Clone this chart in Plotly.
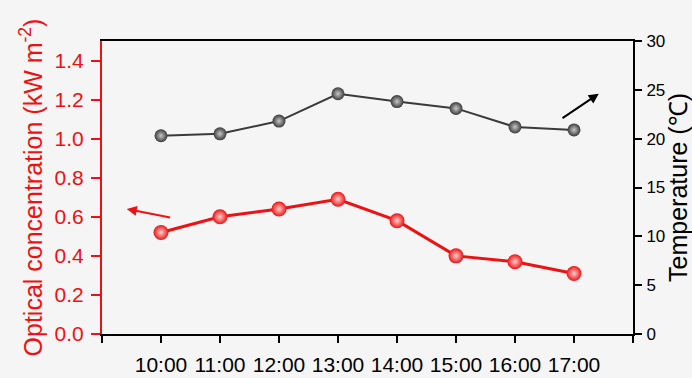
import plotly.graph_objects as go

times = ["10:00", "11:00", "12:00", "13:00", "14:00", "15:00", "16:00", "17:00"]
optical = [0.52, 0.60, 0.64, 0.69, 0.58, 0.40, 0.37, 0.31]
temperature = [20.3, 20.5, 21.8, 24.6, 23.8, 23.1, 21.2, 20.9]
left_ticks = [0.0, 0.2, 0.4, 0.6, 0.8, 1.0, 1.2, 1.4]
right_ticks = [0, 5, 10, 15, 20, 25, 30]

xpos = list(range(len(times)))
FONT = "Arial, Liberation Sans, sans-serif"
RED = "#ee1111"
BG = "#f5f5f5"

fig = go.Figure()
fig.add_trace(go.Scatter(
    x=xpos, y=optical, mode="lines+markers",
    line=dict(color=RED, width=3),
    marker=dict(size=15, color=RED, gradient=dict(type="radial", color="#ffd0d0")),
    yaxis="y", showlegend=False))
fig.add_trace(go.Scatter(
    x=xpos, y=temperature, mode="lines+markers",
    line=dict(color="#3a3a3a", width=2),
    marker=dict(size=13, color="#3a3a3a", gradient=dict(type="radial", color="#c8c8c8")),
    yaxis="y2", showlegend=False))

fig.update_layout(
    width=692, height=378,
    margin=dict(l=102, r=59, t=41, b=44),
    paper_bgcolor=BG, plot_bgcolor=BG,
    font=dict(family=FONT),
    xaxis=dict(
        range=[-1, 8], tickvals=list(range(-1, 9)),
        ticktext=[""] + times + [""],
        showgrid=False, zeroline=False, automargin=False,
        showline=True, linecolor="black", linewidth=2, mirror=True,
        ticks="outside", ticklen=7, tickwidth=1.5, tickcolor="black",
        ticklabelstandoff=4,
        tickfont=dict(size=21, color="black", family=FONT)),
    yaxis=dict(
        range=[0, 1.5], tickvals=left_ticks,
        ticktext=[f"{v:.1f}" for v in left_ticks],
        showgrid=False, zeroline=False, automargin=False,
        showline=True, linecolor=RED, linewidth=2,
        ticks="outside", ticklen=9, tickwidth=1.5, tickcolor=RED,
        ticklabelstandoff=3,
        tickfont=dict(size=21, color=RED, family=FONT),
        title=dict(text="Optical concentration (kW m<sup>-2</sup>)",
                   font=dict(size=25, color=RED, family=FONT), standoff=5)),
    yaxis2=dict(
        range=[0, 30], tickvals=right_ticks, overlaying="y", side="right",
        showgrid=False, zeroline=False, automargin=False,
        showline=True, linecolor="black", linewidth=2,
        ticks="outside", ticklen=7, tickwidth=1.5, tickcolor="black",
        ticklabelstandoff=1,
        tickfont=dict(size=17, color="black", family=FONT),
        title=dict(text="Temperature (℃)",
                   font=dict(size=25, color="black", family=FONT), standoff=6)),
)

fig.add_annotation(x=-0.58, y=0.64, ax=0.18, ay=0.595, xref="x", yref="y",
                   axref="x", ayref="y", showarrow=True, arrowhead=2,
                   arrowsize=1, arrowwidth=2, arrowcolor=RED, text="")
fig.add_annotation(x=7.42, y=24.6, ax=6.78, ay=22.0, xref="x", yref="y2",
                   axref="x", ayref="y2", showarrow=True, arrowhead=2,
                   arrowsize=1, arrowwidth=2, arrowcolor="black", text="")

fig.write_html("out.html")
